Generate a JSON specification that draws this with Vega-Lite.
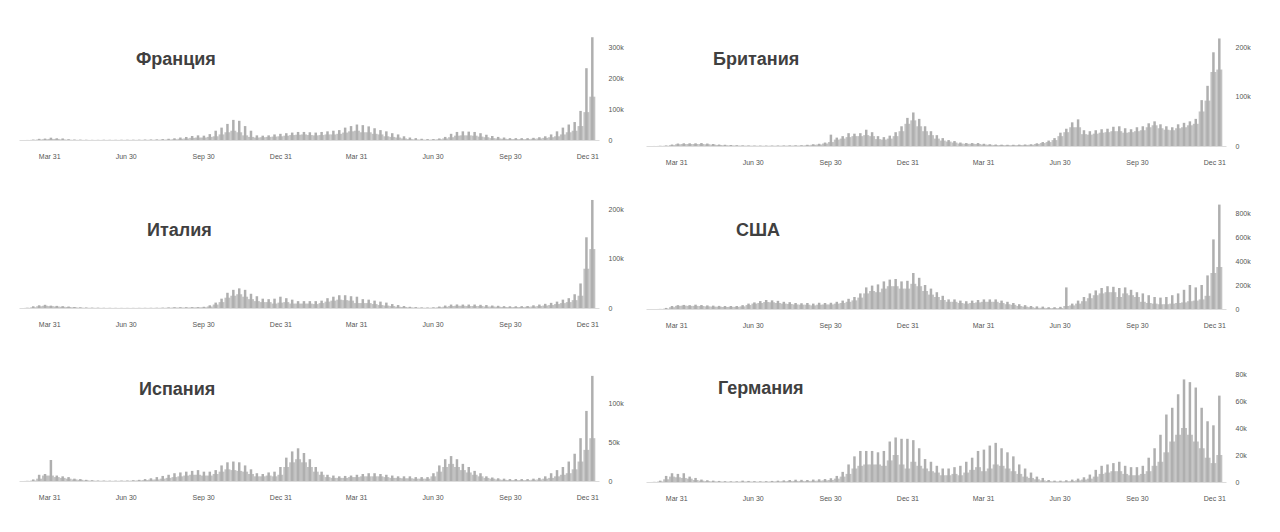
{
  "$schema": "https://vega.github.io/schema/vega-lite/v6.json",
  "background": "white",
  "padding": {"left": 19, "top": 36, "right": 0, "bottom": 0},
  "config": {
    "view": {"stroke": null},
    "axis": {"grid": false, "ticks": false, "domain": false, "title": null, "labelFont": "Liberation Sans", "labelFontSize": 7, "labelColor": "#555555"},
    "axisX": {"domain": true, "domainColor": "#dcdcdc", "domainWidth": 1, "labelPadding": 12},
    "axisY": {"labelPadding": 9},
    "title": {"anchor": "start", "frame": "group", "offset": 0, "baseline": "alphabetic", "font": "Liberation Sans", "fontSize": 18, "fontWeight": "bold", "color": "#404040"}
  },
  "datasets": {
    "fr": [
      {"d":"2020-03-05","hi":0.2,"lo":0.1},{"d":"2020-03-12","hi":1.2,"lo":0.5},{"d":"2020-03-19","hi":3.8,"lo":1.6},{"d":"2020-03-26","hi":4.6,"lo":2.5},
      {"d":"2020-04-02","hi":7.5,"lo":3.5},{"d":"2020-04-09","hi":5.5,"lo":3.5},{"d":"2020-04-16","hi":5,"lo":2},{"d":"2020-04-23","hi":2.5,"lo":1},
      {"d":"2020-04-30","hi":1.5,"lo":0.5},{"d":"2020-05-07","hi":1.2,"lo":0.4},{"d":"2020-05-14","hi":0.8,"lo":0.3},{"d":"2020-05-21","hi":0.5,"lo":0.2},
      {"d":"2020-05-28","hi":0.5,"lo":0.2},{"d":"2020-06-04","hi":0.8,"lo":0.3},{"d":"2020-06-11","hi":0.6,"lo":0.3},{"d":"2020-06-18","hi":0.6,"lo":0.3},
      {"d":"2020-06-25","hi":0.8,"lo":0.3},{"d":"2020-07-02","hi":0.9,"lo":0.4},{"d":"2020-07-09","hi":0.9,"lo":0.4},{"d":"2020-07-16","hi":1,"lo":0.5},
      {"d":"2020-07-23","hi":1.4,"lo":0.6},{"d":"2020-07-30","hi":1.7,"lo":0.7},{"d":"2020-08-06","hi":2,"lo":0.9},{"d":"2020-08-13","hi":2.8,"lo":1.2},
      {"d":"2020-08-20","hi":4,"lo":1.6},{"d":"2020-08-27","hi":5.5,"lo":2.5},{"d":"2020-09-03","hi":8,"lo":4},{"d":"2020-09-10","hi":9.8,"lo":5},
      {"d":"2020-09-17","hi":13,"lo":7},{"d":"2020-09-24","hi":15,"lo":8},{"d":"2020-10-01","hi":14,"lo":8},{"d":"2020-10-08","hi":19,"lo":10},
      {"d":"2020-10-15","hi":30,"lo":12},{"d":"2020-10-22","hi":40,"lo":18},{"d":"2020-10-29","hi":52,"lo":25},{"d":"2020-11-05","hi":65,"lo":30},
      {"d":"2020-11-12","hi":62,"lo":25},{"d":"2020-11-19","hi":45,"lo":15},{"d":"2020-11-26","hi":30,"lo":10},{"d":"2020-12-03","hi":15,"lo":8},
      {"d":"2020-12-10","hi":14,"lo":9},{"d":"2020-12-17","hi":15,"lo":10},{"d":"2020-12-24","hi":18,"lo":11},{"d":"2020-12-31","hi":20,"lo":12},
      {"d":"2021-01-07","hi":22,"lo":14},{"d":"2021-01-14","hi":24,"lo":16},{"d":"2021-01-21","hi":26,"lo":17},{"d":"2021-01-28","hi":26,"lo":18},
      {"d":"2021-02-04","hi":25,"lo":16},{"d":"2021-02-11","hi":24,"lo":15},{"d":"2021-02-18","hi":26,"lo":16},{"d":"2021-02-25","hi":28,"lo":18},
      {"d":"2021-03-04","hi":30,"lo":18},{"d":"2021-03-11","hi":32,"lo":20},{"d":"2021-03-18","hi":40,"lo":24},{"d":"2021-03-25","hi":45,"lo":28},
      {"d":"2021-04-01","hi":50,"lo":30},{"d":"2021-04-08","hi":48,"lo":25},{"d":"2021-04-15","hi":44,"lo":25},{"d":"2021-04-22","hi":38,"lo":20},
      {"d":"2021-04-29","hi":32,"lo":18},{"d":"2021-05-06","hi":28,"lo":12},{"d":"2021-05-13","hi":22,"lo":10},{"d":"2021-05-20","hi":18,"lo":8},
      {"d":"2021-05-27","hi":12,"lo":5},{"d":"2021-06-03","hi":8,"lo":3},{"d":"2021-06-10","hi":6,"lo":2},{"d":"2021-06-17","hi":4,"lo":1.5},
      {"d":"2021-06-24","hi":3,"lo":1},{"d":"2021-07-01","hi":3,"lo":1.5},{"d":"2021-07-08","hi":5,"lo":2.5},{"d":"2021-07-15","hi":10,"lo":5},
      {"d":"2021-07-22","hi":20,"lo":9},{"d":"2021-07-29","hi":26,"lo":14},{"d":"2021-08-05","hi":28,"lo":15},{"d":"2021-08-12","hi":27,"lo":15},
      {"d":"2021-08-19","hi":26,"lo":14},{"d":"2021-08-26","hi":22,"lo":11},{"d":"2021-09-02","hi":17,"lo":9},{"d":"2021-09-09","hi":13,"lo":6},
      {"d":"2021-09-16","hi":10,"lo":5},{"d":"2021-09-23","hi":8,"lo":4},{"d":"2021-09-30","hi":6,"lo":3},{"d":"2021-10-07","hi":6,"lo":3},
      {"d":"2021-10-14","hi":6,"lo":3},{"d":"2021-10-21","hi":6,"lo":3},{"d":"2021-10-28","hi":7,"lo":4},{"d":"2021-11-04","hi":9,"lo":5},
      {"d":"2021-11-11","hi":12,"lo":7},{"d":"2021-11-18","hi":18,"lo":9},{"d":"2021-11-25","hi":28,"lo":12},{"d":"2021-12-02","hi":40,"lo":18},
      {"d":"2021-12-09","hi":50,"lo":25},{"d":"2021-12-16","hi":58,"lo":30},{"d":"2021-12-23","hi":94,"lo":45},{"d":"2021-12-30","hi":232,"lo":90},
      {"d":"2022-01-06","hi":332,"lo":140}
    ],
    "uk": [
      {"d":"2020-03-05","hi":0.1,"lo":0.05},{"d":"2020-03-12","hi":0.4,"lo":0.2},{"d":"2020-03-19","hi":1,"lo":0.5},{"d":"2020-03-26","hi":3,"lo":1.8},
      {"d":"2020-04-02","hi":5,"lo":3.5},{"d":"2020-04-09","hi":5.5,"lo":4},{"d":"2020-04-16","hi":5.5,"lo":4},{"d":"2020-04-23","hi":5.5,"lo":4},
      {"d":"2020-04-30","hi":6,"lo":4},{"d":"2020-05-07","hi":5,"lo":3.5},{"d":"2020-05-14","hi":4,"lo":2.8},{"d":"2020-05-21","hi":3,"lo":2},
      {"d":"2020-05-28","hi":2.5,"lo":1.5},{"d":"2020-06-04","hi":2,"lo":1.2},{"d":"2020-06-11","hi":1.5,"lo":1},{"d":"2020-06-18","hi":1.2,"lo":0.8},
      {"d":"2020-06-25","hi":1,"lo":0.7},{"d":"2020-07-02","hi":0.8,"lo":0.6},{"d":"2020-07-09","hi":0.8,"lo":0.5},{"d":"2020-07-16","hi":0.8,"lo":0.5},
      {"d":"2020-07-23","hi":0.8,"lo":0.6},{"d":"2020-07-30","hi":0.9,"lo":0.6},{"d":"2020-08-06","hi":1,"lo":0.7},{"d":"2020-08-13","hi":1.2,"lo":0.8},
      {"d":"2020-08-20","hi":1.3,"lo":0.9},{"d":"2020-08-27","hi":1.5,"lo":1},{"d":"2020-09-03","hi":2.5,"lo":1.5},{"d":"2020-09-10","hi":3.5,"lo":2.5},
      {"d":"2020-09-17","hi":4.5,"lo":3},{"d":"2020-09-24","hi":7,"lo":5},{"d":"2020-10-01","hi":23,"lo":8},{"d":"2020-10-08","hi":17,"lo":13},
      {"d":"2020-10-15","hi":20,"lo":15},{"d":"2020-10-22","hi":26,"lo":18},{"d":"2020-10-29","hi":25,"lo":20},{"d":"2020-11-05","hi":26,"lo":20},
      {"d":"2020-11-12","hi":33,"lo":22},{"d":"2020-11-19","hi":28,"lo":20},{"d":"2020-11-26","hi":20,"lo":14},{"d":"2020-12-03","hi":18,"lo":13},
      {"d":"2020-12-10","hi":21,"lo":15},{"d":"2020-12-17","hi":28,"lo":20},{"d":"2020-12-24","hi":40,"lo":30},{"d":"2020-12-31","hi":57,"lo":45},
      {"d":"2021-01-07","hi":68,"lo":52},{"d":"2021-01-14","hi":55,"lo":40},{"d":"2021-01-21","hi":40,"lo":30},{"d":"2021-01-28","hi":30,"lo":22},
      {"d":"2021-02-04","hi":22,"lo":15},{"d":"2021-02-11","hi":16,"lo":11},{"d":"2021-02-18","hi":12,"lo":9},{"d":"2021-02-25","hi":10,"lo":7},
      {"d":"2021-03-04","hi":7,"lo":5},{"d":"2021-03-11","hi":6,"lo":4.5},{"d":"2021-03-18","hi":6,"lo":4.5},{"d":"2021-03-25","hi":6,"lo":4},
      {"d":"2021-04-01","hi":4.5,"lo":3},{"d":"2021-04-08","hi":3.5,"lo":2.5},{"d":"2021-04-15","hi":3,"lo":2},{"d":"2021-04-22","hi":2.7,"lo":2},
      {"d":"2021-04-29","hi":2.5,"lo":1.8},{"d":"2021-05-06","hi":2.5,"lo":1.8},{"d":"2021-05-13","hi":2.8,"lo":2},{"d":"2021-05-20","hi":3,"lo":2.2},
      {"d":"2021-05-27","hi":3.5,"lo":2.5},{"d":"2021-06-03","hi":5.5,"lo":4},{"d":"2021-06-10","hi":8,"lo":6},{"d":"2021-06-17","hi":11,"lo":8},
      {"d":"2021-06-24","hi":16,"lo":12},{"d":"2021-07-01","hi":27,"lo":20},{"d":"2021-07-08","hi":35,"lo":28},{"d":"2021-07-15","hi":48,"lo":38},
      {"d":"2021-07-22","hi":54,"lo":38},{"d":"2021-07-29","hi":32,"lo":24},{"d":"2021-08-05","hi":30,"lo":23},{"d":"2021-08-12","hi":32,"lo":25},
      {"d":"2021-08-19","hi":34,"lo":27},{"d":"2021-08-26","hi":35,"lo":28},{"d":"2021-09-02","hi":39,"lo":30},{"d":"2021-09-09","hi":40,"lo":30},
      {"d":"2021-09-16","hi":36,"lo":27},{"d":"2021-09-23","hi":34,"lo":28},{"d":"2021-09-30","hi":38,"lo":30},{"d":"2021-10-07","hi":40,"lo":32},
      {"d":"2021-10-14","hi":46,"lo":38},{"d":"2021-10-21","hi":50,"lo":42},{"d":"2021-10-28","hi":44,"lo":36},{"d":"2021-11-04","hi":40,"lo":33},
      {"d":"2021-11-11","hi":38,"lo":32},{"d":"2021-11-18","hi":44,"lo":36},{"d":"2021-11-25","hi":47,"lo":38},{"d":"2021-12-02","hi":50,"lo":42},
      {"d":"2021-12-09","hi":55,"lo":45},{"d":"2021-12-16","hi":93,"lo":70},{"d":"2021-12-23","hi":122,"lo":92},{"d":"2021-12-30","hi":190,"lo":150},
      {"d":"2022-01-06","hi":218,"lo":155}
    ],
    "it": [
      {"d":"2020-03-05","hi":0.5,"lo":0.3},{"d":"2020-03-12","hi":3.5,"lo":1.5},{"d":"2020-03-19","hi":5.5,"lo":3.5},{"d":"2020-03-26","hi":6.5,"lo":4.5},
      {"d":"2020-04-02","hi":4.8,"lo":3.8},{"d":"2020-04-09","hi":4.3,"lo":3},{"d":"2020-04-16","hi":3.7,"lo":2.5},{"d":"2020-04-23","hi":3,"lo":2},
      {"d":"2020-04-30","hi":2,"lo":1.4},{"d":"2020-05-07","hi":1.4,"lo":0.8},{"d":"2020-05-14","hi":1,"lo":0.5},{"d":"2020-05-21","hi":0.7,"lo":0.4},
      {"d":"2020-05-28","hi":0.6,"lo":0.3},{"d":"2020-06-04","hi":0.4,"lo":0.2},{"d":"2020-06-11","hi":0.35,"lo":0.2},{"d":"2020-06-18","hi":0.3,"lo":0.15},
      {"d":"2020-06-25","hi":0.25,"lo":0.15},{"d":"2020-07-02","hi":0.25,"lo":0.15},{"d":"2020-07-09","hi":0.25,"lo":0.15},{"d":"2020-07-16","hi":0.3,"lo":0.2},
      {"d":"2020-07-23","hi":0.35,"lo":0.2},{"d":"2020-07-30","hi":0.4,"lo":0.2},{"d":"2020-08-06","hi":0.5,"lo":0.3},{"d":"2020-08-13","hi":0.7,"lo":0.4},
      {"d":"2020-08-20","hi":1.2,"lo":0.6},{"d":"2020-08-27","hi":1.5,"lo":1},{"d":"2020-09-03","hi":1.6,"lo":1},{"d":"2020-09-10","hi":1.6,"lo":1},
      {"d":"2020-09-17","hi":1.7,"lo":1.2},{"d":"2020-09-24","hi":1.8,"lo":1.3},{"d":"2020-10-01","hi":2.5,"lo":1.5},{"d":"2020-10-08","hi":5.5,"lo":3},
      {"d":"2020-10-15","hi":11,"lo":7},{"d":"2020-10-22","hi":19,"lo":12},{"d":"2020-10-29","hi":31,"lo":21},{"d":"2020-11-05","hi":37,"lo":25},
      {"d":"2020-11-12","hi":40,"lo":28},{"d":"2020-11-19","hi":37,"lo":23},{"d":"2020-11-26","hi":29,"lo":18},{"d":"2020-12-03","hi":24,"lo":14},
      {"d":"2020-12-10","hi":19,"lo":12},{"d":"2020-12-17","hi":18,"lo":12},{"d":"2020-12-24","hi":19,"lo":9},{"d":"2020-12-31","hi":23,"lo":11},
      {"d":"2021-01-07","hi":20,"lo":12},{"d":"2021-01-14","hi":17,"lo":9},{"d":"2021-01-21","hi":14,"lo":9},{"d":"2021-01-28","hi":14,"lo":9},
      {"d":"2021-02-04","hi":14,"lo":9},{"d":"2021-02-11","hi":14,"lo":8},{"d":"2021-02-18","hi":15,"lo":10},{"d":"2021-02-25","hi":20,"lo":13},
      {"d":"2021-03-04","hi":23,"lo":15},{"d":"2021-03-11","hi":26,"lo":17},{"d":"2021-03-18","hi":26,"lo":16},{"d":"2021-03-25","hi":24,"lo":15},
      {"d":"2021-04-01","hi":23,"lo":10},{"d":"2021-04-08","hi":18,"lo":10},{"d":"2021-04-15","hi":17,"lo":10},{"d":"2021-04-22","hi":15,"lo":8},
      {"d":"2021-04-29","hi":13,"lo":6},{"d":"2021-05-06","hi":11,"lo":5},{"d":"2021-05-13","hi":8,"lo":4},{"d":"2021-05-20","hi":6,"lo":2.5},
      {"d":"2021-05-27","hi":4,"lo":2},{"d":"2021-06-03","hi":2.5,"lo":1.3},{"d":"2021-06-10","hi":1.8,"lo":0.9},{"d":"2021-06-17","hi":1.2,"lo":0.6},
      {"d":"2021-06-24","hi":1,"lo":0.5},{"d":"2021-07-01","hi":1.4,"lo":0.7},{"d":"2021-07-08","hi":3,"lo":1.5},{"d":"2021-07-15","hi":5,"lo":2.5},
      {"d":"2021-07-22","hi":7,"lo":4},{"d":"2021-07-29","hi":7.2,"lo":4.5},{"d":"2021-08-05","hi":7,"lo":4.5},{"d":"2021-08-12","hi":7,"lo":4},
      {"d":"2021-08-19","hi":7,"lo":4},{"d":"2021-08-26","hi":6.5,"lo":4},{"d":"2021-09-02","hi":6,"lo":3},{"d":"2021-09-09","hi":5,"lo":3},
      {"d":"2021-09-16","hi":4.5,"lo":2.5},{"d":"2021-09-23","hi":3.8,"lo":2},{"d":"2021-09-30","hi":3.5,"lo":1.8},{"d":"2021-10-07","hi":3.5,"lo":2},
      {"d":"2021-10-14","hi":3.8,"lo":2},{"d":"2021-10-21","hi":4,"lo":2.5},{"d":"2021-10-28","hi":5.5,"lo":3},{"d":"2021-11-04","hi":7,"lo":4},
      {"d":"2021-11-11","hi":8.5,"lo":5},{"d":"2021-11-18","hi":10.5,"lo":6},{"d":"2021-11-25","hi":13,"lo":8},{"d":"2021-12-02","hi":17,"lo":10},
      {"d":"2021-12-09","hi":20,"lo":12},{"d":"2021-12-16","hi":28,"lo":16},{"d":"2021-12-23","hi":50,"lo":25},{"d":"2021-12-30","hi":144,"lo":80},
      {"d":"2022-01-06","hi":220,"lo":120}
    ],
    "us": [
      {"d":"2020-03-05","hi":0.1,"lo":0.05},{"d":"2020-03-12","hi":0.8,"lo":0.4},{"d":"2020-03-19","hi":9,"lo":3},{"d":"2020-03-26","hi":25,"lo":15},
      {"d":"2020-04-02","hi":32,"lo":26},{"d":"2020-04-09","hi":34,"lo":28},{"d":"2020-04-16","hi":32,"lo":26},{"d":"2020-04-23","hi":36,"lo":26},
      {"d":"2020-04-30","hi":33,"lo":25},{"d":"2020-05-07","hi":30,"lo":22},{"d":"2020-05-14","hi":28,"lo":20},{"d":"2020-05-21","hi":26,"lo":19},
      {"d":"2020-05-28","hi":25,"lo":17},{"d":"2020-06-04","hi":25,"lo":18},{"d":"2020-06-11","hi":25,"lo":18},{"d":"2020-06-18","hi":32,"lo":22},
      {"d":"2020-06-25","hi":45,"lo":33},{"d":"2020-07-02","hi":55,"lo":45},{"d":"2020-07-09","hi":66,"lo":50},{"d":"2020-07-16","hi":75,"lo":58},
      {"d":"2020-07-23","hi":72,"lo":56},{"d":"2020-07-30","hi":68,"lo":50},{"d":"2020-08-06","hi":60,"lo":45},{"d":"2020-08-13","hi":57,"lo":42},
      {"d":"2020-08-20","hi":50,"lo":38},{"d":"2020-08-27","hi":48,"lo":36},{"d":"2020-09-03","hi":50,"lo":36},{"d":"2020-09-10","hi":45,"lo":30},
      {"d":"2020-09-17","hi":52,"lo":36},{"d":"2020-09-24","hi":50,"lo":38},{"d":"2020-10-01","hi":52,"lo":38},{"d":"2020-10-08","hi":60,"lo":45},
      {"d":"2020-10-15","hi":70,"lo":50},{"d":"2020-10-22","hi":85,"lo":60},{"d":"2020-10-29","hi":100,"lo":72},{"d":"2020-11-05","hi":130,"lo":95},
      {"d":"2020-11-12","hi":180,"lo":130},{"d":"2020-11-19","hi":195,"lo":150},{"d":"2020-11-26","hi":205,"lo":140},{"d":"2020-12-03","hi":230,"lo":170},
      {"d":"2020-12-10","hi":245,"lo":190},{"d":"2020-12-17","hi":250,"lo":190},{"d":"2020-12-24","hi":230,"lo":170},{"d":"2020-12-31","hi":235,"lo":170},
      {"d":"2021-01-07","hi":300,"lo":210},{"d":"2021-01-14","hi":260,"lo":190},{"d":"2021-01-21","hi":200,"lo":150},{"d":"2021-01-28","hi":170,"lo":120},
      {"d":"2021-02-04","hi":140,"lo":100},{"d":"2021-02-11","hi":110,"lo":75},{"d":"2021-02-18","hi":80,"lo":60},{"d":"2021-02-25","hi":80,"lo":60},
      {"d":"2021-03-04","hi":70,"lo":50},{"d":"2021-03-11","hi":65,"lo":45},{"d":"2021-03-18","hi":70,"lo":50},{"d":"2021-03-25","hi":75,"lo":55},
      {"d":"2021-04-01","hi":80,"lo":60},{"d":"2021-04-08","hi":80,"lo":60},{"d":"2021-04-15","hi":80,"lo":60},{"d":"2021-04-22","hi":70,"lo":50},
      {"d":"2021-04-29","hi":60,"lo":40},{"d":"2021-05-06","hi":50,"lo":35},{"d":"2021-05-13","hi":40,"lo":25},{"d":"2021-05-20","hi":32,"lo":20},
      {"d":"2021-05-27","hi":25,"lo":15},{"d":"2021-06-03","hi":22,"lo":10},{"d":"2021-06-10","hi":20,"lo":10},{"d":"2021-06-17","hi":15,"lo":8},
      {"d":"2021-06-24","hi":15,"lo":8},{"d":"2021-07-01","hi":18,"lo":8},{"d":"2021-07-08","hi":180,"lo":25},{"d":"2021-07-15","hi":45,"lo":30},
      {"d":"2021-07-22","hi":70,"lo":45},{"d":"2021-07-29","hi":100,"lo":65},{"d":"2021-08-05","hi":130,"lo":90},{"d":"2021-08-12","hi":155,"lo":115},
      {"d":"2021-08-19","hi":175,"lo":130},{"d":"2021-08-26","hi":190,"lo":140},{"d":"2021-09-02","hi":185,"lo":140},{"d":"2021-09-09","hi":175,"lo":100},
      {"d":"2021-09-16","hi":180,"lo":130},{"d":"2021-09-23","hi":160,"lo":115},{"d":"2021-09-30","hi":140,"lo":100},{"d":"2021-10-07","hi":130,"lo":60},
      {"d":"2021-10-14","hi":115,"lo":50},{"d":"2021-10-21","hi":100,"lo":45},{"d":"2021-10-28","hi":95,"lo":40},{"d":"2021-11-04","hi":100,"lo":40},
      {"d":"2021-11-11","hi":115,"lo":45},{"d":"2021-11-18","hi":130,"lo":50},{"d":"2021-11-25","hi":160,"lo":55},{"d":"2021-12-02","hi":200,"lo":65},
      {"d":"2021-12-09","hi":180,"lo":70},{"d":"2021-12-16","hi":200,"lo":80},{"d":"2021-12-23","hi":280,"lo":110},{"d":"2021-12-30","hi":580,"lo":300},
      {"d":"2022-01-06","hi":870,"lo":350}
    ],
    "es": [
      {"d":"2020-03-05","hi":0.2,"lo":0.1},{"d":"2020-03-12","hi":2,"lo":0.6},{"d":"2020-03-19","hi":8,"lo":3},{"d":"2020-03-26","hi":9,"lo":7},
      {"d":"2020-04-02","hi":27,"lo":7},{"d":"2020-04-09","hi":7,"lo":5},{"d":"2020-04-16","hi":6,"lo":4},{"d":"2020-04-23","hi":5,"lo":3},
      {"d":"2020-04-30","hi":3,"lo":2},{"d":"2020-05-07","hi":2.5,"lo":1.5},{"d":"2020-05-14","hi":1.5,"lo":0.8},{"d":"2020-05-21","hi":1,"lo":0.5},
      {"d":"2020-05-28","hi":0.6,"lo":0.3},{"d":"2020-06-04","hi":0.5,"lo":0.3},{"d":"2020-06-11","hi":0.4,"lo":0.2},{"d":"2020-06-18","hi":0.4,"lo":0.2},
      {"d":"2020-06-25","hi":0.5,"lo":0.3},{"d":"2020-07-02","hi":0.6,"lo":0.3},{"d":"2020-07-09","hi":1,"lo":0.5},{"d":"2020-07-16","hi":1.5,"lo":0.8},
      {"d":"2020-07-23","hi":2.5,"lo":1.2},{"d":"2020-07-30","hi":3.5,"lo":1.8},{"d":"2020-08-06","hi":5,"lo":2},{"d":"2020-08-13","hi":6.5,"lo":3},
      {"d":"2020-08-20","hi":8,"lo":4},{"d":"2020-08-27","hi":10,"lo":5},{"d":"2020-09-03","hi":11,"lo":6},{"d":"2020-09-10","hi":12,"lo":7},
      {"d":"2020-09-17","hi":13,"lo":8},{"d":"2020-09-24","hi":14,"lo":8},{"d":"2020-10-01","hi":12,"lo":7},{"d":"2020-10-08","hi":12,"lo":7},
      {"d":"2020-10-15","hi":14,"lo":9},{"d":"2020-10-22","hi":20,"lo":12},{"d":"2020-10-29","hi":24,"lo":15},{"d":"2020-11-05","hi":25,"lo":14},
      {"d":"2020-11-12","hi":24,"lo":13},{"d":"2020-11-19","hi":20,"lo":12},{"d":"2020-11-26","hi":15,"lo":9},{"d":"2020-12-03","hi":10,"lo":6},
      {"d":"2020-12-10","hi":9,"lo":6},{"d":"2020-12-17","hi":11,"lo":7},{"d":"2020-12-24","hi":12,"lo":6},{"d":"2020-12-31","hi":18,"lo":8},
      {"d":"2021-01-07","hi":30,"lo":18},{"d":"2021-01-14","hi":38,"lo":24},{"d":"2021-01-21","hi":42,"lo":28},{"d":"2021-01-28","hi":36,"lo":24},
      {"d":"2021-02-04","hi":28,"lo":18},{"d":"2021-02-11","hi":18,"lo":12},{"d":"2021-02-18","hi":12,"lo":8},{"d":"2021-02-25","hi":8,"lo":5},
      {"d":"2021-03-04","hi":7,"lo":4},{"d":"2021-03-11","hi":6,"lo":4},{"d":"2021-03-18","hi":6.5,"lo":4},{"d":"2021-03-25","hi":7,"lo":5},
      {"d":"2021-04-01","hi":8,"lo":5},{"d":"2021-04-08","hi":9,"lo":6},{"d":"2021-04-15","hi":10,"lo":6},{"d":"2021-04-22","hi":10,"lo":6},
      {"d":"2021-04-29","hi":9,"lo":6},{"d":"2021-05-06","hi":8,"lo":5},{"d":"2021-05-13","hi":7,"lo":4},{"d":"2021-05-20","hi":6,"lo":4},
      {"d":"2021-05-27","hi":6,"lo":3.5},{"d":"2021-06-03","hi":6,"lo":3.5},{"d":"2021-06-10","hi":5,"lo":3},{"d":"2021-06-17","hi":5,"lo":3},
      {"d":"2021-06-24","hi":5,"lo":3},{"d":"2021-07-01","hi":10,"lo":6},{"d":"2021-07-08","hi":20,"lo":12},{"d":"2021-07-15","hi":28,"lo":18},
      {"d":"2021-07-22","hi":32,"lo":22},{"d":"2021-07-29","hi":28,"lo":18},{"d":"2021-08-05","hi":22,"lo":14},{"d":"2021-08-12","hi":18,"lo":11},
      {"d":"2021-08-19","hi":13,"lo":8},{"d":"2021-08-26","hi":10,"lo":6},{"d":"2021-09-02","hi":6,"lo":4},{"d":"2021-09-09","hi":4.5,"lo":3},
      {"d":"2021-09-16","hi":3.5,"lo":2},{"d":"2021-09-23","hi":3,"lo":1.5},{"d":"2021-09-30","hi":2.5,"lo":1.2},{"d":"2021-10-07","hi":2.5,"lo":1.2},
      {"d":"2021-10-14","hi":2.5,"lo":1.2},{"d":"2021-10-21","hi":2.5,"lo":1.2},{"d":"2021-10-28","hi":3,"lo":1.5},{"d":"2021-11-04","hi":4,"lo":2},
      {"d":"2021-11-11","hi":6,"lo":3},{"d":"2021-11-18","hi":10,"lo":4},{"d":"2021-11-25","hi":14,"lo":6},{"d":"2021-12-02","hi":18,"lo":8},
      {"d":"2021-12-09","hi":25,"lo":10},{"d":"2021-12-16","hi":35,"lo":15},{"d":"2021-12-23","hi":55,"lo":25},{"d":"2021-12-30","hi":90,"lo":40},
      {"d":"2022-01-06","hi":135,"lo":55}
    ],
    "de": [
      {"d":"2020-03-05","hi":0.1,"lo":0.05},{"d":"2020-03-12","hi":1,"lo":0.4},{"d":"2020-03-19","hi":4.5,"lo":2},{"d":"2020-03-26","hi":6.5,"lo":4},
      {"d":"2020-04-02","hi":6,"lo":3.5},{"d":"2020-04-09","hi":6.5,"lo":3},{"d":"2020-04-16","hi":4,"lo":2.5},{"d":"2020-04-23","hi":3,"lo":1.5},
      {"d":"2020-04-30","hi":1.8,"lo":1},{"d":"2020-05-07","hi":1.3,"lo":0.7},{"d":"2020-05-14","hi":1,"lo":0.5},{"d":"2020-05-21","hi":0.8,"lo":0.4},
      {"d":"2020-05-28","hi":0.6,"lo":0.3},{"d":"2020-06-04","hi":0.5,"lo":0.3},{"d":"2020-06-11","hi":0.5,"lo":0.3},{"d":"2020-06-18","hi":1,"lo":0.4},
      {"d":"2020-06-25","hi":0.8,"lo":0.4},{"d":"2020-07-02","hi":0.6,"lo":0.3},{"d":"2020-07-09","hi":0.5,"lo":0.3},{"d":"2020-07-16","hi":0.6,"lo":0.3},
      {"d":"2020-07-23","hi":0.8,"lo":0.4},{"d":"2020-07-30","hi":1,"lo":0.5},{"d":"2020-08-06","hi":1.2,"lo":0.6},{"d":"2020-08-13","hi":1.5,"lo":0.8},
      {"d":"2020-08-20","hi":1.7,"lo":0.8},{"d":"2020-08-27","hi":1.6,"lo":0.8},{"d":"2020-09-03","hi":1.5,"lo":0.8},{"d":"2020-09-10","hi":1.8,"lo":0.9},
      {"d":"2020-09-17","hi":2,"lo":1},{"d":"2020-09-24","hi":2.2,"lo":1.2},{"d":"2020-10-01","hi":2.8,"lo":1.5},{"d":"2020-10-08","hi":4.5,"lo":2.5},
      {"d":"2020-10-15","hi":7.5,"lo":4},{"d":"2020-10-22","hi":13,"lo":6},{"d":"2020-10-29","hi":19,"lo":10},{"d":"2020-11-05","hi":23,"lo":12},
      {"d":"2020-11-12","hi":23,"lo":13},{"d":"2020-11-19","hi":23,"lo":13},{"d":"2020-11-26","hi":22,"lo":13},{"d":"2020-12-03","hi":23,"lo":12},
      {"d":"2020-12-10","hi":30,"lo":16},{"d":"2020-12-17","hi":33,"lo":20},{"d":"2020-12-24","hi":32,"lo":13},{"d":"2020-12-31","hi":32,"lo":10},
      {"d":"2021-01-07","hi":31,"lo":15},{"d":"2021-01-14","hi":25,"lo":12},{"d":"2021-01-21","hi":17,"lo":10},{"d":"2021-01-28","hi":15,"lo":8},
      {"d":"2021-02-04","hi":12,"lo":7},{"d":"2021-02-11","hi":10,"lo":5},{"d":"2021-02-18","hi":10,"lo":5},{"d":"2021-02-25","hi":11,"lo":6},
      {"d":"2021-03-04","hi":12,"lo":5},{"d":"2021-03-11","hi":15,"lo":7},{"d":"2021-03-18","hi":18,"lo":9},{"d":"2021-03-25","hi":23,"lo":11},
      {"d":"2021-04-01","hi":24,"lo":8},{"d":"2021-04-08","hi":27,"lo":10},{"d":"2021-04-15","hi":29,"lo":13},{"d":"2021-04-22","hi":25,"lo":12},
      {"d":"2021-04-29","hi":22,"lo":10},{"d":"2021-05-06","hi":19,"lo":8},{"d":"2021-05-13","hi":13,"lo":6},{"d":"2021-05-20","hi":10,"lo":4},
      {"d":"2021-05-27","hi":7,"lo":3},{"d":"2021-06-03","hi":4,"lo":2},{"d":"2021-06-10","hi":3,"lo":1.2},{"d":"2021-06-17","hi":1.5,"lo":0.7},
      {"d":"2021-06-24","hi":1,"lo":0.5},{"d":"2021-07-01","hi":1,"lo":0.5},{"d":"2021-07-08","hi":1.3,"lo":0.6},{"d":"2021-07-15","hi":1.8,"lo":0.8},
      {"d":"2021-07-22","hi":2.5,"lo":1.2},{"d":"2021-07-29","hi":3.5,"lo":1.8},{"d":"2021-08-05","hi":5.5,"lo":2.5},{"d":"2021-08-12","hi":9,"lo":4},
      {"d":"2021-08-19","hi":12,"lo":6},{"d":"2021-08-26","hi":13,"lo":7},{"d":"2021-09-02","hi":14,"lo":8},{"d":"2021-09-09","hi":15,"lo":8},
      {"d":"2021-09-16","hi":12,"lo":6},{"d":"2021-09-23","hi":11,"lo":5},{"d":"2021-09-30","hi":11,"lo":5},{"d":"2021-10-07","hi":12,"lo":6},
      {"d":"2021-10-14","hi":18,"lo":8},{"d":"2021-10-21","hi":25,"lo":12},{"d":"2021-10-28","hi":35,"lo":15},{"d":"2021-11-04","hi":50,"lo":22},
      {"d":"2021-11-11","hi":55,"lo":30},{"d":"2021-11-18","hi":65,"lo":35},{"d":"2021-11-25","hi":76,"lo":40},{"d":"2021-12-02","hi":74,"lo":35},
      {"d":"2021-12-09","hi":70,"lo":30},{"d":"2021-12-16","hi":55,"lo":25},{"d":"2021-12-23","hi":45,"lo":18},{"d":"2021-12-30","hi":42,"lo":14},
      {"d":"2022-01-06","hi":64,"lo":20}
    ]
  },
  "spacing": 33,
  "vconcat": [
    {
      "spacing": 22,
      "hconcat": [
        {
          "title": {"text": "Франция", "dx": 117, "dy": 37},
          "width": 580, "height": 104,
          "data": {"name": "fr"},
          "encoding": {"x": {"field": "d", "type": "temporal", "scale": {"domain": [{"year": 2020, "month": 3, "date": 1}, {"year": 2022, "month": 1, "date": 8}]}, "axis": {"format": "%b %d", "values": [{"year": 2020, "month": 3, "date": 31}, {"year": 2020, "month": 6, "date": 30}, {"year": 2020, "month": 9, "date": 30}, {"year": 2020, "month": 12, "date": 31}, {"year": 2021, "month": 3, "date": 31}, {"year": 2021, "month": 6, "date": 30}, {"year": 2021, "month": 9, "date": 30}, {"year": 2021, "month": 12, "date": 31}]}}},
          "layer": [
            {"mark": {"type": "bar", "width": 6, "color": "#c2c2c2"}, "encoding": {"y": {"field": "lo", "type": "quantitative", "scale": {"domain": [0, 336], "nice": false}, "axis": {"orient": "right", "values": [0, 100, 200, 300], "labelExpr": "datum.value == 0 ? '0' : datum.value + 'k'"}}}},
            {"mark": {"type": "bar", "width": 2.5, "color": "#afafaf"}, "encoding": {"y": {"field": "hi", "type": "quantitative", "scale": {"domain": [0, 336], "nice": false}, "axis": {"orient": "right", "values": [0, 100, 200, 300], "labelExpr": "datum.value == 0 ? '0' : datum.value + 'k'"}}}}
          ]
        },
        {
          "title": {"text": "Британия", "dx": 67, "dy": 37},
          "width": 580, "height": 110,
          "data": {"name": "uk"},
          "encoding": {"x": {"field": "d", "type": "temporal", "scale": {"domain": [{"year": 2020, "month": 3, "date": 1}, {"year": 2022, "month": 1, "date": 8}]}, "axis": {"format": "%b %d", "values": [{"year": 2020, "month": 3, "date": 31}, {"year": 2020, "month": 6, "date": 30}, {"year": 2020, "month": 9, "date": 30}, {"year": 2020, "month": 12, "date": 31}, {"year": 2021, "month": 3, "date": 31}, {"year": 2021, "month": 6, "date": 30}, {"year": 2021, "month": 9, "date": 30}, {"year": 2021, "month": 12, "date": 31}]}}},
          "layer": [
            {"mark": {"type": "bar", "width": 6, "color": "#c2c2c2"}, "encoding": {"y": {"field": "lo", "type": "quantitative", "scale": {"domain": [0, 223], "nice": false}, "axis": {"orient": "right", "values": [0, 100, 200], "labelExpr": "datum.value == 0 ? '0' : datum.value + 'k'"}}}},
            {"mark": {"type": "bar", "width": 2.5, "color": "#afafaf"}, "encoding": {"y": {"field": "hi", "type": "quantitative", "scale": {"domain": [0, 223], "nice": false}, "axis": {"orient": "right", "values": [0, 100, 200], "labelExpr": "datum.value == 0 ? '0' : datum.value + 'k'"}}}}
          ]
        }
      ]
    },
    {
      "spacing": 42,
      "vconcat": [
        {
          "spacing": 22,
          "hconcat": [
            {
              "title": {"text": "Италия", "dx": 128, "dy": 46},
              "width": 580, "height": 110,
              "data": {"name": "it"},
              "encoding": {"x": {"field": "d", "type": "temporal", "scale": {"domain": [{"year": 2020, "month": 3, "date": 1}, {"year": 2022, "month": 1, "date": 8}]}, "axis": {"format": "%b %d", "values": [{"year": 2020, "month": 3, "date": 31}, {"year": 2020, "month": 6, "date": 30}, {"year": 2020, "month": 9, "date": 30}, {"year": 2020, "month": 12, "date": 31}, {"year": 2021, "month": 3, "date": 31}, {"year": 2021, "month": 6, "date": 30}, {"year": 2021, "month": 9, "date": 30}, {"year": 2021, "month": 12, "date": 31}]}}},
              "layer": [
                {"mark": {"type": "bar", "width": 6, "color": "#c2c2c2"}, "encoding": {"y": {"field": "lo", "type": "quantitative", "scale": {"domain": [0, 224], "nice": false}, "axis": {"orient": "right", "values": [0, 100, 200], "labelExpr": "datum.value == 0 ? '0' : datum.value + 'k'"}}}},
                {"mark": {"type": "bar", "width": 2.5, "color": "#afafaf"}, "encoding": {"y": {"field": "hi", "type": "quantitative", "scale": {"domain": [0, 224], "nice": false}, "axis": {"orient": "right", "values": [0, 100, 200], "labelExpr": "datum.value == 0 ? '0' : datum.value + 'k'"}}}}
              ]
            },
            {
              "title": {"text": "США", "dx": 90, "dy": 46},
              "width": 580, "height": 111,
              "data": {"name": "us"},
              "encoding": {"x": {"field": "d", "type": "temporal", "scale": {"domain": [{"year": 2020, "month": 3, "date": 1}, {"year": 2022, "month": 1, "date": 8}]}, "axis": {"format": "%b %d", "values": [{"year": 2020, "month": 3, "date": 31}, {"year": 2020, "month": 6, "date": 30}, {"year": 2020, "month": 9, "date": 30}, {"year": 2020, "month": 12, "date": 31}, {"year": 2021, "month": 3, "date": 31}, {"year": 2021, "month": 6, "date": 30}, {"year": 2021, "month": 9, "date": 30}, {"year": 2021, "month": 12, "date": 31}]}}},
              "layer": [
                {"mark": {"type": "bar", "width": 6, "color": "#c2c2c2"}, "encoding": {"y": {"field": "lo", "type": "quantitative", "scale": {"domain": [0, 925], "nice": false}, "axis": {"orient": "right", "values": [0, 200, 400, 600, 800], "labelExpr": "datum.value == 0 ? '0' : datum.value + 'k'"}}}},
                {"mark": {"type": "bar", "width": 2.5, "color": "#afafaf"}, "encoding": {"y": {"field": "hi", "type": "quantitative", "scale": {"domain": [0, 925], "nice": false}, "axis": {"orient": "right", "values": [0, 200, 400, 600, 800], "labelExpr": "datum.value == 0 ? '0' : datum.value + 'k'"}}}}
              ]
            }
          ]
        },
        {
          "spacing": 22,
          "hconcat": [
            {
              "title": {"text": "Испания", "dx": 120, "dy": 31},
              "width": 580, "height": 109,
              "data": {"name": "es"},
              "encoding": {"x": {"field": "d", "type": "temporal", "scale": {"domain": [{"year": 2020, "month": 3, "date": 1}, {"year": 2022, "month": 1, "date": 8}]}, "axis": {"format": "%b %d", "values": [{"year": 2020, "month": 3, "date": 31}, {"year": 2020, "month": 6, "date": 30}, {"year": 2020, "month": 9, "date": 30}, {"year": 2020, "month": 12, "date": 31}, {"year": 2021, "month": 3, "date": 31}, {"year": 2021, "month": 6, "date": 30}, {"year": 2021, "month": 9, "date": 30}, {"year": 2021, "month": 12, "date": 31}]}}},
              "layer": [
                {"mark": {"type": "bar", "width": 6, "color": "#c2c2c2"}, "encoding": {"y": {"field": "lo", "type": "quantitative", "scale": {"domain": [0, 140], "nice": false}, "axis": {"orient": "right", "values": [0, 50, 100], "labelExpr": "datum.value == 0 ? '0' : datum.value + 'k'"}}}},
                {"mark": {"type": "bar", "width": 2.5, "color": "#afafaf"}, "encoding": {"y": {"field": "hi", "type": "quantitative", "scale": {"domain": [0, 140], "nice": false}, "axis": {"orient": "right", "values": [0, 50, 100], "labelExpr": "datum.value == 0 ? '0' : datum.value + 'k'"}}}}
              ]
            },
            {
              "title": {"text": "Германия", "dx": 72, "dy": 32},
              "width": 580, "height": 110,
              "data": {"name": "de"},
              "encoding": {"x": {"field": "d", "type": "temporal", "scale": {"domain": [{"year": 2020, "month": 3, "date": 1}, {"year": 2022, "month": 1, "date": 8}]}, "axis": {"format": "%b %d", "values": [{"year": 2020, "month": 3, "date": 31}, {"year": 2020, "month": 6, "date": 30}, {"year": 2020, "month": 9, "date": 30}, {"year": 2020, "month": 12, "date": 31}, {"year": 2021, "month": 3, "date": 31}, {"year": 2021, "month": 6, "date": 30}, {"year": 2021, "month": 9, "date": 30}, {"year": 2021, "month": 12, "date": 31}]}}},
              "layer": [
                {"mark": {"type": "bar", "width": 6, "color": "#c2c2c2"}, "encoding": {"y": {"field": "lo", "type": "quantitative", "scale": {"domain": [0, 81.5], "nice": false}, "axis": {"orient": "right", "values": [0, 20, 40, 60, 80], "labelExpr": "datum.value == 0 ? '0' : datum.value + 'k'"}}}},
                {"mark": {"type": "bar", "width": 2.5, "color": "#afafaf"}, "encoding": {"y": {"field": "hi", "type": "quantitative", "scale": {"domain": [0, 81.5], "nice": false}, "axis": {"orient": "right", "values": [0, 20, 40, 60, 80], "labelExpr": "datum.value == 0 ? '0' : datum.value + 'k'"}}}}
              ]
            }
          ]
        }
      ]
    }
  ]
}
